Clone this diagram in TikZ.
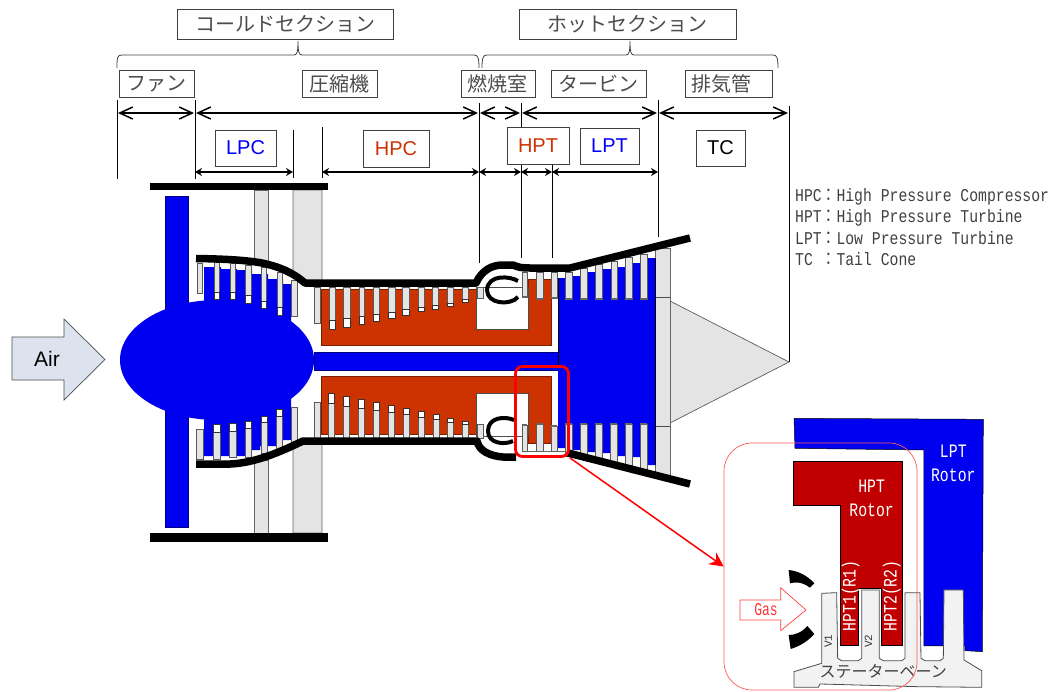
\documentclass[tikz,border=0pt]{standalone}
\usepackage{fontspec}
\setmainfont{Liberation Sans}
\setmonofont{Liberation Mono}
\newfontfamily\cjk{Noto Sans CJK JP}
\usetikzlibrary{arrows.meta}
\definecolor{fblue}{HTML}{0000F0}
\definecolor{forange}{HTML}{CC3300}
\definecolor{fdark}{HTML}{C00000}
\definecolor{fgrey}{HTML}{E4E4E4}
\definecolor{fair}{HTML}{DDE3EE}
\definecolor{flg}{HTML}{F2F2F2}
\newcommand{\fs}[1]{\fontsize{#1}{#1}\selectfont}
\tikzset{
  x=1pt,y=-1pt,
  labelbox/.style={draw=black!75,line width=0.9pt,fill=white,inner sep=0pt,font=\cjk\fs{20},text=black!70},
  tagbox/.style={draw=black!75,line width=0.9pt,fill=white,inner sep=0pt,font=\fs{20}},
  tick/.style={draw=black,line width=0.8pt},
  bigdim/.style={line width=1.5pt,{Straight Barb[length=13pt,width=12pt,line width=1.5pt]}-{Straight Barb[length=13pt,width=12pt,line width=1.5pt]}},
  smalldim/.style={line width=1.4pt,{Stealth[length=7pt,width=8pt]}-{Stealth[length=7pt,width=8pt]}},
  bracel/.style={draw=black!75,line width=0.8pt},
  strut/.style={fill=fgrey,draw=black!60,line width=0.9pt},
  casing/.style={draw=black,line width=7.5pt,line join=round},
  bar/.style={fill=black},
  vane/.style={fill=fgrey,draw=black!65,line width=0.8pt},
  vanetip/.style={fill=white,draw=black!80,line width=0.6pt},
  legendtxt/.style={anchor=west,inner sep=0pt,font=\ttfamily\fs{18},text=black!75,xscale=0.82,transform shape},
  inwhite/.style={text=white,font=\ttfamily\fs{19},align=center,inner sep=0pt,xscale=0.78,transform shape},
}
\begin{document}
\begin{tikzpicture}
\useasboundingbox (0,0) rectangle (1051,691);
% section boxes
\node[labelbox,minimum width=216pt,minimum height=30pt] (cold) at (285,24) {コールドセクション};
\node[labelbox,minimum width=217pt,minimum height=30pt] (hot) at (627.5,24) {ホットセクション};
\draw[bracel] (117,68) .. controls (117,58) and (117,55) .. (122,55) -- (294,55) .. controls (297,55) and (298,52) .. (298,41) .. controls (298,52) and (299,55) .. (302,55) -- (474,55) .. controls (478,55) and (479,58) .. (479,68);
\draw[bracel] (482,68) .. controls (482,58) and (483,55) .. (487,55) -- (626,55) .. controls (629,55) and (630,52) .. (630,41) .. controls (630,52) and (631,55) .. (634,55) -- (773,55) .. controls (777,55) and (778,58) .. (778,68);
\node[labelbox,minimum width=75pt,minimum height=27pt] (fan) at (156.5,83.5) {ファン};
\node[labelbox,minimum width=75pt,minimum height=27pt] (comp) at (339.5,83.5) {圧縮機};
\node[labelbox,minimum width=74pt,minimum height=27pt,font=\cjk\fs{20}] (comb) at (498,83.5) {\hspace{-1pt}燃焼室};
\node[labelbox,minimum width=95pt,minimum height=27pt] (turb) at (598.5,83.5) {タービン};
\node[labelbox,minimum width=87pt,minimum height=27pt] (exh) at (728.5,83.5) {\hspace{-14pt}排気管};
% guide ticks
\coordinate (t1a) at (117,100); \coordinate (t1b) at (117,179);
\coordinate (t2a) at (195,100); \coordinate (t2b) at (195,179);
\coordinate (t3a) at (293,130); \coordinate (t3b) at (293,178);
\coordinate (t4a) at (322,127); \coordinate (t4b) at (322,178);
\coordinate (t5a) at (479,103); \coordinate (t5b) at (479,263);
\coordinate (t6a) at (521,103); \coordinate (t6b) at (521,258);
\coordinate (t7a) at (552,163); \coordinate (t7b) at (552,258);
\coordinate (t8a) at (658,100); \coordinate (t8b) at (658,237);
\coordinate (t9a) at (789,106); \coordinate (t9b) at (789,362);
\foreach \n in {1,...,9} \draw[tick] (t\n a) -- (t\n b);
\node[tagbox,minimum width=61pt,minimum height=36pt,text=blue] (lpc) at (245.5,148) {LPC};
\node[tagbox,minimum width=66pt,minimum height=37pt,text=forange] (hpc) at (396,148.5) {HPC};
\node[tagbox,minimum width=62pt,minimum height=37pt,text=forange] (hpt) at (538,145.5) {HPT};
\node[tagbox,minimum width=59pt,minimum height=36pt,text=blue] (lpt) at (609.5,146) {LPT};
\node[tagbox,minimum width=49pt,minimum height=36pt] (tc) at (720.5,148) {TC};
% dimension arrows
\coordinate (a1) at (117,113); \coordinate (a2) at (195,113); \coordinate (a5) at (479,113); \coordinate (a6) at (521,113); \coordinate (a8) at (658,113); \coordinate (a9) at (789,113);
\draw[bigdim,shorten <=1pt,shorten >=1pt] (a1) -- (a2);
\draw[bigdim,shorten <=1pt,shorten >=1pt] (a2) -- (a5);
\draw[bigdim,shorten <=1pt,shorten >=1pt] (a5) -- (a6);
\draw[bigdim,shorten <=1pt,shorten >=1pt] (a6) -- (a8);
\draw[bigdim,shorten <=1pt,shorten >=1pt] (a8) -- (a9);
\coordinate (b2) at (195,172); \coordinate (b3) at (293,172); \coordinate (b4) at (322,172); \coordinate (b5) at (479,172); \coordinate (b6) at (521,172); \coordinate (b7) at (552,172); \coordinate (b8) at (658,172);
\draw[smalldim] (b2) -- (b3);
\draw[smalldim,line width=1.8pt] (b4) -- (b5);
\draw[smalldim] (b5) -- (b6);
\draw[smalldim] (b6) -- (b7);
\draw[smalldim] (b7) -- (b8);
% legend
\node[legendtxt] (l1) at (795,197) {HPC{\cjk ：}High Pressure Compressor};
\node[legendtxt] (l2) at (795,218) {HPT{\cjk ：}High Pressure Turbine};
\node[legendtxt] (l3) at (795,238) {LPT{\cjk ：}Low Pressure Turbine};
\node[legendtxt] (l4) at (795,259) {TC {\cjk ：}Tail Cone};
% Air arrow
\draw[fill=fair,draw=black!70,line width=0.7pt] (12,337) -- (64,337) -- (64,319) -- (105,359.5) -- (64,400) -- (64,380) -- (12,380) -- cycle;
\node[font=\fs{21},inner sep=0pt] (air) at (47,359) {Air};
% tail cone and tail segment
\fill[fgrey,draw=black!70,line width=0.6pt] (670,301) -- (789,362) -- (670,423) -- cycle;
\draw[strut,line width=0.8pt] (655,248) rectangle (670,475);
\draw[black!70,line width=0.8pt] (655,297) -- (670,297) (655,426) -- (670,426);
% struts
\draw[strut] (254,190) rectangle (268,263);
\draw[strut] (293,190) -- (322,190) -- (322,283) -- (305,283) -- (293,273) -- cycle;
\draw[strut] (254,460) rectangle (268,533);
\draw[strut] (293,533) -- (322,533) -- (322,441) -- (303,441) -- (293,446) -- cycle;
% nacelle bars
\fill[bar] (150,183) rectangle (328,190);
\fill[bar] (150,533) rectangle (328,542);
% fan and LPC rotor
\fill[fblue,draw=blue!50!black,line width=0.6pt] (165,196) rectangle (188,527);
\fill[fblue] (204,340) -- (204,267) -- (221,267) -- (221,269) -- (237,269) -- (237,270) -- (252,270) -- (252,274) -- (268,274) -- (268,279) -- (283,279) -- (283,284) -- (291,284) -- (291,340) -- cycle;
\fill[fblue] (204,380) -- (204,456) -- (245,456) -- (245,450) -- (260,450) -- (260,446) -- (276,446) -- (276,440) -- (291,440) -- (291,380) -- cycle;
\fill[fblue,draw=blue!50!black,line width=0.5pt] (314,352) rectangle (558,370);
\fill[fblue] (217,360) ellipse [x radius=97,y radius=60];
% HPC / HPT rotor
\fill[forange,draw=forange!60!black,line width=0.8pt] (321,345) -- (321,289) -- (528,289) -- (528,279) -- (551,279) -- (551,345) -- cycle;
\fill[forange,draw=forange!60!black,line width=0.8pt] (321,376) -- (551,376) -- (551,443) -- (528,443) -- (528,434) -- (321,434) -- cycle;
\draw[fill=white,draw=black!70,line width=0.7pt] (476,287) rectangle (528,329);
\draw[fill=white,draw=black!70,line width=0.7pt] (476,393) rectangle (528,436);
% LPT rotor
\fill[fblue] (558,345) -- (558,278) -- (572,278) -- (572,276) -- (587,276) -- (587,272) -- (602,272) -- (602,269) -- (617,269) -- (617,267) -- (632,267) -- (632,263) -- (647,263) -- (647,258) -- (655,258) -- (655,465) -- (647,465) -- (647,457) -- (632,457) -- (632,456) -- (617,456) -- (617,453) -- (602,453) -- (602,452) -- (587,452) -- (587,450) -- (572,450) -- (572,448) -- (558,448) -- cycle;
\draw[black,line width=0.9pt] (655,258) -- (655,465) (558,278) -- (558,366);
% vanes, upper: x1/x2/top/bottom/tip
\foreach \a/\b/\c/\d/\e in {197/202/263/293/0,214/219/262/292/299,230/235/263/292/299,245/251/265/295/303,261/266/267/301/308,277/282/272/307/315,291/297/280/316/0,
 314/320/287/323/0,329/335/287/320/329,343/350/287/318/327,359/364/287/316/324,373/379/287/314/321,388/395/287/312/318,402/409/287/309/315,418/424/287/307/311,432/438/287/305/309,447/453/287/303/306,462/468/287/299/302,477/483/287/298/0}{
  \draw[vane] (\a,\c) rectangle (\b,\d);
  \ifnum\e>0 \draw[vanetip] (\a,\d) rectangle (\b,\e); \fi
}
\foreach \a/\b/\c/\d in {522/527/272/297,536/543/272/299,551/557/272/298,565/572/272/299,580/587/268/299,595/602/264/299,611/617/261/299,625/632/257/299,640/647/254/299}{
  \draw[vane] (\a,\c) rectangle (\b,\d);
  \draw[black!60,line width=1.5pt] (\a,\d) -- (\b,\d);
}
% vanes, lower: x1/x2/inner/outer/tip
\foreach \a/\b/\c/\d/\e in {196/203/429/459/0,213/220/432/459/424,229/236/431/457/423,245/251/428/457/421,261/267/422/453/416,276/282/416/450/409,291/297/407/442/0,
 314/320/402/438/0,328/334/403/438/393,343/349/406/438/396,358/364/408/438/399,373/379/410/438/402,388/394/412/438/405,403/409/414/438/408,418/424/417/438/411,433/439/419/438/414,447/453/422/438/418,462/468/424/438/421,477/483/424/438/0}{
  \draw[vane] (\a,\c) rectangle (\b,\d);
  \ifnum\e>0 \draw[vanetip] (\a,\e) rectangle (\b,\c); \fi
}
\foreach \a/\b/\c/\d in {522/527/425/451,536/543/424/451,551/557/426/451,565/572/424/456,580/587/424/457,595/602/424/458,610/617/424/462,625/632/424/465,640/647/424/470}{
  \draw[vane] (\a,\c) rectangle (\b,\d);
  \draw[black!60,line width=1.5pt] (\a,\c) -- (\b,\c);
}
\draw[black!60,line width=0.8pt] (522,451) -- (566,451);
% casing
\draw[casing] (196,258.5) .. controls (225,259) and (245,260) .. (262,263) .. controls (280,267) and (292,272) .. (305,283) -- (476,283) .. controls (482,270) and (492,265) .. (503,265) -- (513,265) .. controls (518,267) and (520,268) .. (530,268) -- (570,268) -- (690,238);
\draw[casing] (196,464) -- (230,464) .. controls (255,463) and (280,452) .. (303,441) -- (477,441) .. controls (479,451) and (490,456) .. (503,457) -- (516,457);
\draw[casing] (568,453) -- (690,484);
% liner
\draw[line width=4pt,black] (518,281) .. controls (510,276) and (488,274) .. (487,290) .. controls (487,304) and (510,306) .. (518,297);
\draw[line width=4pt,black] (514,420) .. controls (505,416) and (488,417) .. (488,431) .. controls (488,444) and (505,445) .. (513,441);
% call-out
\node[draw=red,line width=2.8pt,rounded corners=7pt,minimum width=53pt,minimum height=90pt,inner sep=0pt] (callout) at (542,411.5) {};
% inset
\begin{scope}[shift={(720,410)},x=0.3333pt,y=-0.3333pt]
\fill[fblue,draw=black,line width=0.5pt] (222,25) -- (790,28) -- (787,725) -- (735,722) -- (735,708) -- (612,708) -- (612,120) -- (225,115) -- cycle;
\fill[fdark,draw=black,line width=0.5pt] (220,153) -- (548,153) -- (548,705) -- (485,705) -- (485,535) -- (415,535) -- (415,705) -- (360,705) -- (360,285) -- (220,285) -- cycle;
\draw[fill=flg,draw=black!70,line width=0.8pt] (222,785) -- (305,760) -- (305,550) -- (350,548) -- (353,745) -- (365,752) -- (415,752) -- (425,745) -- (425,540) -- (478,540) -- (478,745) -- (490,752) -- (545,752) -- (555,745) -- (555,548) -- (600,548) -- (603,745) -- (615,752) -- (660,752) -- (670,745) -- (672,540) -- (730,540) -- (732,750) -- (785,782) -- (785,832) -- (590,830) -- (300,822) -- (295,832) -- (222,832) -- cycle;
\fill[black] (206,480) .. controls (235,483) and (262,497) .. (283,520) -- (270,533) .. controls (255,522) and (238,513) .. (210,520) -- cycle;
\fill[black] (206,675) .. controls (225,675) and (245,668) .. (262,648) -- (283,672) .. controls (262,695) and (240,708) .. (212,717) -- cycle;
\draw[red!75,fill=white,line width=0.7pt] (60,570) -- (182,570) -- (182,533) -- (258,600) -- (182,662) -- (182,630) -- (60,630) -- cycle;
\node[text=red!80,font=\ttfamily\fs{18},inner sep=0pt,xscale=0.72,transform shape] (gas) at (138,600) {Gas};
\node[inwhite] (lptr) at (700,160) {LPT\\[5pt]Rotor};
\node[inwhite] (hptr) at (455,265) {HPT\\[5pt]Rotor};
\node[rotate=90,inwhite] (r1) at (392,558) {HPT1(R1)};
\node[rotate=90,inwhite] (r2) at (515,558) {HPT2(R2)};
\node[text=black!80,rotate=90,font=\ttfamily\fs{11},inner sep=0pt] (v1) at (325,694) {V1};
\node[text=black!80,rotate=90,font=\ttfamily\fs{11},inner sep=0pt] (v2) at (445,694) {V2};
\node[text=black!75,font=\cjk\fs{16},inner sep=0pt] (vane) at (490,785) {ステーターベーン};
\end{scope}
\node[draw=red!65,line width=0.7pt,rounded corners=28pt,minimum width=193pt,minimum height=247pt,inner sep=0pt] (inset) at (820.5,566.5) {};
\draw[red,line width=1.5pt,-{Stealth[length=14pt,width=14pt]}] (callout.south east) -- (inset.west);
\end{tikzpicture}
\end{document}
